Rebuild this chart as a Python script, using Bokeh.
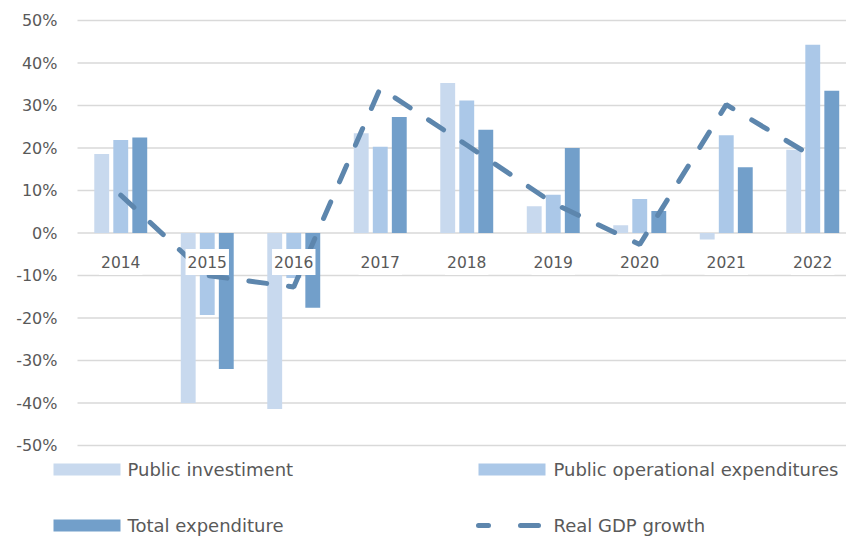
from bokeh.plotting import figure
from bokeh.models import ColumnDataSource, Range1d
from bokeh.transform import dodge
from bokeh.core.properties import value
from bokeh.embed import file_html
from bokeh.resources import INLINE

years = ["2014", "2015", "2016", "2017", "2018", "2019", "2020", "2021", "2022"]
public_investment = [18.6, -40.0, -41.4, 23.5, 35.3, 6.3, 1.8, -1.5, 19.6]
public_operational = [21.9, -19.3, -10.6, 20.3, 31.2, 9.0, 8.0, 23.0, 44.3]
total_expenditure = [22.5, -32.0, -17.6, 27.3, 24.3, 20.0, 5.2, 15.5, 33.5]
real_gdp_growth = [8.9, -10.0, -12.7, 34.1, 20.7, 7.0, -2.7, 30.2, 18.0]
y_ticks = [-50, -40, -30, -20, -10, 0, 10, 20, 30, 40, 50]
y_tick_labels = [f"{t}%" for t in y_ticks]

legend_names = ["Public investiment", "Public operational expenditures",
                "Total expenditure", "Real GDP growth"]

C_PI = "#c8d9ee"
C_POE = "#abc8e8"
C_TE = "#729fca"
C_GDP = "#5d86ad"
TXT = "#595959"
GRID = "#d9d9d9"
FONT = "DejaVu Sans"

# layout (screen pixels -> plot units); the figure sits at the page origin
ORIGIN = 0
W, H = 846, 536
PX_X = 86.5          # pixels per category
PX_Y = 4.25          # pixels per percent
FRAME_LEFT = 77      # screen x of the left edge of the category area
TOP50 = 20           # screen y of the 50% line


def ux(sx):
    return -0.5 + (sx - FRAME_LEFT) / PX_X


def uy(sy):
    return 50 - (sy - TOP50) / PX_Y


x_start, x_end = ux(ORIGIN), ux(ORIGIN + W)
y_top, y_bottom = uy(ORIGIN), uy(ORIGIN + H)

src = ColumnDataSource(dict(
    x=list(range(len(years))),
    year=years,
    pi=public_investment,
    poe=public_operational,
    te=total_expenditure,
    gdp=real_gdp_growth,
    zero=[0] * len(years),
))

p = figure(width=W, height=H, output_backend="svg", toolbar_location=None,
           x_range=Range1d(x_start, x_end), y_range=Range1d(y_bottom, y_top),
           min_border=0, min_border_left=0, min_border_right=0,
           min_border_top=0, min_border_bottom=0)
p.outline_line_color = None
p.background_fill_color = "white"
p.border_fill_color = "white"
p.axis.visible = False
p.grid.visible = False

# horizontal grid lines and their labels
p.segment(x0=[-0.5] * len(y_ticks), x1=[x_end] * len(y_ticks), y0=y_ticks, y1=y_ticks,
          line_color=GRID, line_width=1.5)
p.text(x=[ux(57)] * len(y_ticks), y=y_ticks, text=y_tick_labels,
       text_align="right", text_baseline="middle", text_font=value(FONT),
       text_font_size="16px", text_color=TXT)

bw = 0.172
off = 0.22
p.vbar(x=dodge("x", -off, range=p.x_range), top="pi", width=bw, source=src,
       fill_color=C_PI, line_color=None)
p.vbar(x=dodge("x", 0, range=p.x_range), top="poe", width=bw, source=src,
       fill_color=C_POE, line_color=None)
p.vbar(x=dodge("x", off, range=p.x_range), top="te", width=bw, source=src,
       fill_color=C_TE, line_color=None)
p.line(x="x", y="gdp", source=src, line_color=C_GDP, line_width=5,
       line_dash="18 22", line_cap="round")

p.text(x="x", y="zero", text="year", source=src, y_offset=29,
       text_align="center", text_baseline="middle",
       text_font=value(FONT), text_font_size="15.5px", text_color=TXT,
       background_fill_color="white", padding=[2, 7])

# legend
row1, row2 = uy(469), uy(525)
sw_h = 12 / PX_Y
sw_w = 67 / PX_X
p.rect(x=[ux(86.5), ux(511.5), ux(86.5)], y=[row1, row1, row2],
       width=sw_w, height=sw_h, fill_color=[C_PI, C_POE, C_TE], line_color=None)
p.line(x=[ux(478), ux(538)], y=[row2, row2], line_color=C_GDP, line_width=5,
       line_dash="10 32 18 10", line_cap="round")
p.text(x=[ux(127), ux(553), ux(127), ux(553)], y=[row1, row1, row2, row2],
       text=legend_names, text_font=value(FONT), text_font_size="18px",
       text_color=TXT, text_baseline="middle", text_align="left")

open("out.html", "w").write(file_html(p, INLINE))
